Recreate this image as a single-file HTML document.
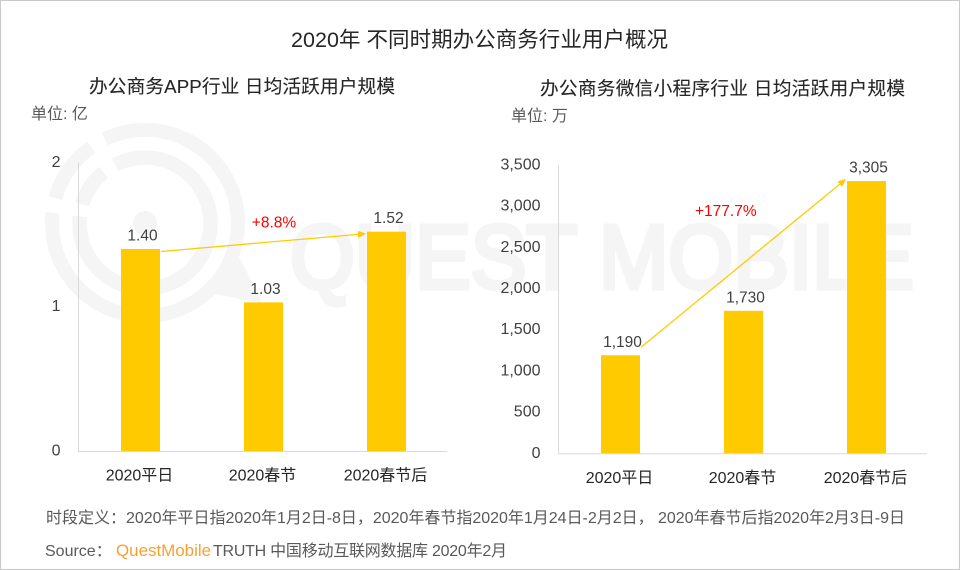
<!DOCTYPE html>
<html lang="zh">
<head>
<meta charset="utf-8">
<title>2020年 不同时期办公商务行业用户概况</title>
<style>
  html, body { margin: 0; padding: 0; background: #fff; }
  #stage { display: block; width: 960px; height: 570px; }
  text { font-family: "Liberation Sans", "Noto Sans CJK SC", sans-serif; }
</style>
</head>
<body>
<svg id="stage" xmlns="http://www.w3.org/2000/svg" width="960" height="570" viewBox="0 0 960 570">
  <rect x="0.5" y="0.5" width="959" height="569" fill="#fff" stroke="#c9c9c9"/>

  <g fill="none" stroke="#f5f5f5">
    <path stroke-width="14" d="M104.7 139.1 A93 93 0 1 1 52.5 213"/>
    <path stroke-width="14" d="M55.3 198.1 A93 93 0 0 1 91.1 147.2"/>
    <path stroke-width="14.5" d="M115.1 164.8 A65.5 65.5 0 1 1 79.8 216.4"/>
    <path stroke-width="14.5" d="M82.2 204.3 A65.5 65.5 0 0 1 103.5 172.4"/>
    <circle cx="145" cy="223" r="12" fill="#f5f5f5" stroke="none"/>
    <polygon points="224,262 240,258 262,303 211,293 208,284" fill="#f5f5f5" stroke="none"/>
    <text x="290" y="288" font-size="90" font-weight="400" fill="#f5f5f5" stroke="#f5f5f5" stroke-width="5" textLength="624" lengthAdjust="spacingAndGlyphs">QUEST MOBILE</text>
  </g>

  <text x="291" y="47" font-size="21.5" fill="#262626" textLength="377" lengthAdjust="spacing">2020年 不同时期办公商务行业用户概况</text>

  <text x="89" y="93" font-size="18.7" fill="#262626" stroke="#262626" stroke-width="0.12" textLength="306" lengthAdjust="spacing">办公商务APP行业 日均活跃用户规模</text>
  <text x="31" y="119" font-size="16" fill="#595959">单位: 亿</text>

  <text x="540" y="95" font-size="18.7" fill="#262626" stroke="#262626" stroke-width="0.12" textLength="365" lengthAdjust="spacing">办公商务微信小程序行业 日均活跃用户规模</text>
  <text x="511" y="121" font-size="16" fill="#595959">单位: 万</text>

  <g id="left-chart"></g>
  <g id="right-chart"></g>

  <text x="46" y="523" font-size="16" fill="#595959" textLength="859" lengthAdjust="spacing">时段定义：2020年平日指2020年1月2日-8日，2020年春节指2020年1月24日-2月2日， 2020年春节后指2020年2月3日-9日</text>
  <text x="45" y="556" font-size="16" fill="#595959">Source：</text>
  <text x="116" y="556" font-size="17" fill="#f7a030" textLength="95" lengthAdjust="spacingAndGlyphs">QuestMobile</text>
  <text x="213" y="556" font-size="16" fill="#595959" textLength="294" lengthAdjust="spacing">TRUTH 中国移动互联网数据库 2020年2月</text>
</svg>

<script>
var categories = ['2020平日', '2020春节', '2020春节后'];

var leftValues = [1.40, 1.03, 1.52];
var leftValueLabels = ['1.40', '1.03', '1.52'];
var leftTicks = [0, 1, 2];
var leftTickLabels = ['0', '1', '2'];
var leftGrowthLabel = '+8.8%';

var rightValues = [1190, 1730, 3305];
var rightValueLabels = ['1,190', '1,730', '3,305'];
var rightTicks = [0, 500, 1000, 1500, 2000, 2500, 3000, 3500];
var rightTickLabels = ['0', '500', '1,000', '1,500', '2,000', '2,500', '3,000', '3,500'];
var rightGrowthLabel = '+177.7%';

var SVG_NS = 'http://www.w3.org/2000/svg';

function make(parent, tag, attrs, content) {
  var el = document.createElementNS(SVG_NS, tag);
  Object.keys(attrs).forEach(function (k) { el.setAttribute(k, attrs[k]); });
  if (content !== undefined) el.textContent = content;
  parent.appendChild(el);
  return el;
}

function drawChart(rootId, cfg) {
  var root = document.getElementById(rootId);
  var maxTick = cfg.ticks[cfg.ticks.length - 1];
  function y(v) { return cfg.baseY - (v / maxTick) * (cfg.baseY - cfg.topY); }
  function barX(i) { return cfg.axisX + 43 + i * 123; }
  var barW = 39;

  var yAxis = make(root, 'line', { x1: cfg.axisX + 0.5, x2: cfg.axisX + 0.5, y1: cfg.topY, y2: cfg.baseY, stroke: '#d9d9d9', 'stroke-width': 1 });
  
  

  var xAxis = make(root, 'line', { x1: cfg.axisX, x2: cfg.axisX + 369, y1: cfg.baseY + 0.5, y2: cfg.baseY + 0.5, stroke: '#d9d9d9', 'stroke-width': 1 });
  
  

  cfg.ticks.forEach(function (t, i) {
    var label = make(root, 'text', { x: cfg.axisX - 17.5, y: y(t) + 4.5, 'font-size': 16, fill: '#404040', 'text-anchor': 'end' }, cfg.tickLabels[i]);
    
    
  });

  cfg.values.forEach(function (v, i) {
    var bar = make(root, 'rect', { x: barX(i), y: y(v), width: barW, height: cfg.baseY - y(v), fill: '#ffcb00' });
    
    

    var val = make(root, 'text', { x: barX(i) + barW / 2 + 2, y: y(v) - 8.5, 'font-size': 15.5, fill: '#404040', 'text-anchor': 'middle' }, cfg.valueLabels[i]);
    
    

    var cat = make(root, 'text', { x: barX(i) + barW / 2 - 1, y: cfg.baseY + 29.5, 'font-size': 16, fill: '#262626', 'text-anchor': 'middle' }, categories[i]);
    
    
  });

  // growth arrow, from the first bar to the last bar
  var last = cfg.values.length - 1;
  var x1 = barX(0) + barW + 1;
  var y1 = y(cfg.values[0]) + cfg.arrowStartOffset;
  var x2 = barX(last) - 1;
  var y2 = y(cfg.values[last]) + cfg.arrowEndOffset;
  var dx = x2 - x1, dy = y2 - y1, len = Math.sqrt(dx * dx + dy * dy);
  var ux = dx / len, uy = dy / len;
  var headLen = 8, headHalf = 3.6;
  var bx = x2 - ux * headLen, by = y2 - uy * headLen;

  var shaft = make(root, 'line', { x1: x1, y1: y1, x2: bx, y2: by, stroke: '#ffcb00', 'stroke-width': 1.3 });
  
  

  var pts = [x2, y2, bx - uy * headHalf, by + ux * headHalf, bx + uy * headHalf, by - ux * headHalf].join(' ');
  var head = make(root, 'polygon', { points: pts, fill: '#ffcb00' });
  
  

  var growth = make(root, 'text', { x: cfg.growthX, y: (y1 + y2) / 2 + cfg.growthOffset, 'font-size': 15.5, fill: '#ff0000', 'text-anchor': 'middle' }, cfg.growthLabel);
  
  
}

drawChart('left-chart', {
  axisX: 78, baseY: 451, topY: 162.4,
  values: leftValues, valueLabels: leftValueLabels,
  ticks: leftTicks, tickLabels: leftTickLabels,
  growthLabel: leftGrowthLabel, growthX: 274, growthOffset: -15,
  arrowStartOffset: 2.5, arrowEndOffset: 2
});

drawChart('right-chart', {
  axisX: 558, baseY: 453.3, topY: 165,
  values: rightValues, valueLabels: rightValueLabels,
  ticks: rightTicks, tickLabels: rightTickLabels,
  growthLabel: rightGrowthLabel, growthX: 725.8, growthOffset: -47,
  arrowStartOffset: -8, arrowEndOffset: -2
});
</script>
</body>
</html>
